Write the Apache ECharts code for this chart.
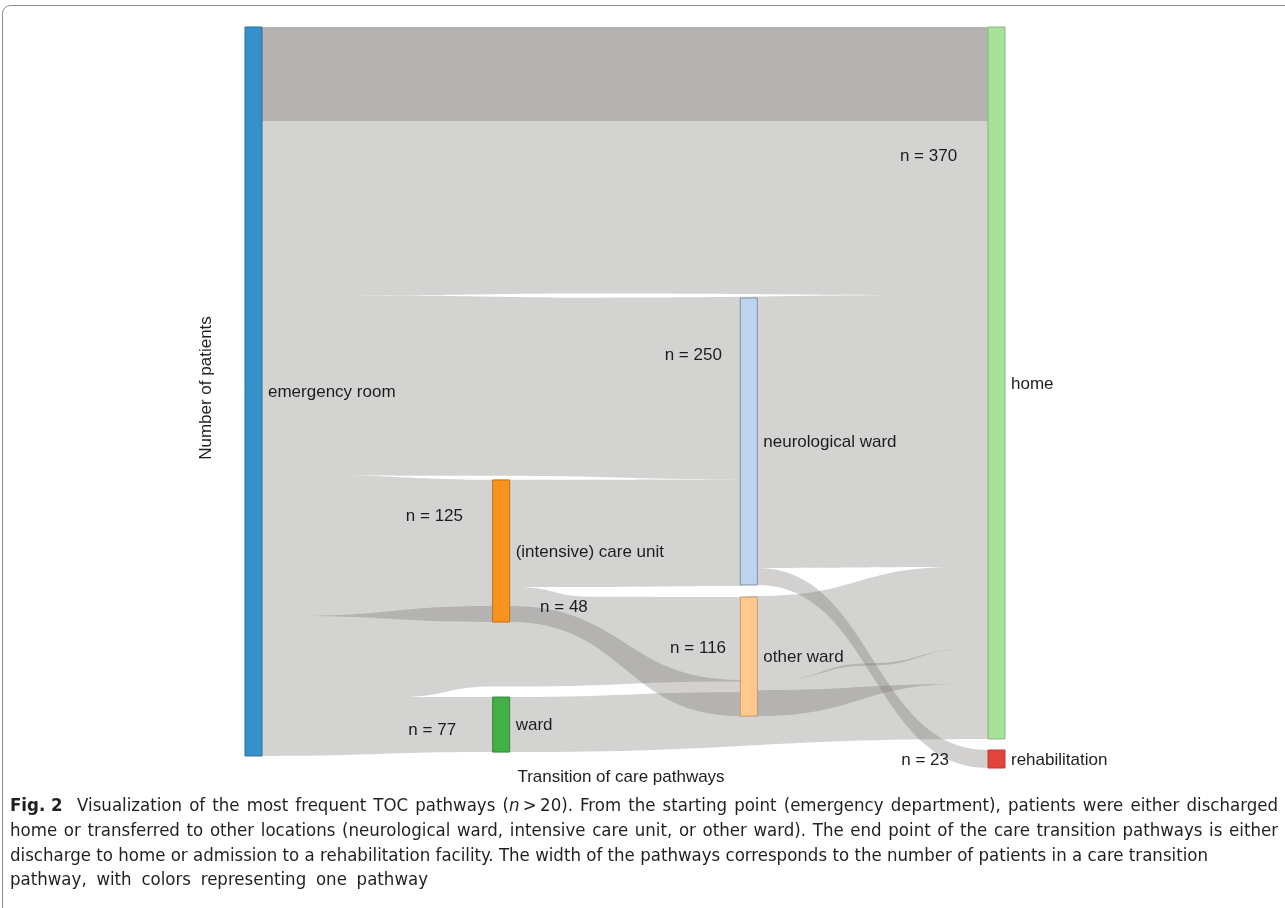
<!DOCTYPE html>
<html><head><meta charset="utf-8">
<script src="https://cdn.jsdelivr.net/npm/echarts@6/dist/echarts.min.js"></script>
<style>html,body{margin:0;padding:0;background:#fff}#chart{width:1285px;height:908px}</style>
</head><body><div id="chart"></div>
<script>
// ================= DATA =================
// Nodes (care locations): stage on the pathway axis, extent on the patient axis
const nodeNames  = ['emergency room', '(intensive) care unit', 'ward', 'neurological ward', 'other ward', 'home', 'rehabilitation'];
const nodeStage  = [0, 1, 1, 2, 2, 3, 3];
const nodeStart  = [0, 244.5, 361.7, 146.3, 307.7, 0, 390.3];
const nodeEnd    = [393.5, 321.2, 391.4, 301.2, 372.0, 384.3, 400];
const nodeColors = ['#3690c9', '#f7931e', '#44ae47', '#bdd3ee', '#fdca8c', '#a8e19b', '#e0443c'];
const nodeBorder = ['#2b6e9c', '#c66f0e', '#2e8a33', '#7d91ad', '#c49a6a', '#86b67a', '#c9362f'];

// Pathway counts (n labels)
const countLabels = ['n = 370', 'n = 250', 'n = 125', 'n = 116', 'n = 77', 'n = 48', 'n = 23'];
// anchor of each count label on [stage axis, patient axis]
const countAnchorStage = [2.841, 1.891, 0.846, 1.908, 0.818, 1.157, 2.808];
const countAnchorValue = [69.1, 176.5, 263.4, 334.7, 378.9, 312.6, 395.1];
const countAlign       = ['right', 'right', 'right', 'right', 'right', 'left', 'right'];

// Pathway ribbons: stations [stage, node side (-1 left edge / 0 / +1 right edge), upper value, lower value]
const allPathways      = [[0, 1, 0, 393.5], [1, -1, 0, 391.4], [1, 1, 0, 391.4], [3, -1, 0, 384.3]];
const gapAboveNeuro    = [[0.41, 0, 144.9, 144.9], [1.399, 0, 143.9, 146.1], [2.784, 0, 144.7, 144.7]];
const gapAboveIcu      = [[0.289, 0, 242.1, 242.1], [1, -1, 242.3, 244.4], [2, -1, 244.2, 244.2]];
const gapNeuroOther    = [[1.064, 0, 302.3, 302.3], [1.359, 0, 302.3, 307.5], [2, -1, 301.8, 307.7], [2, 1, 292.0, 307.2], [2.841, 0, 291.5, 291.5]];
const gapAboveWard     = [[0.5915, 0, 361.7, 361.7], [1, -1, 356.0, 361.7], [1, 1, 356.0, 361.7], [2, -1, 353.3, 359.1]];
const erHome           = [[0, 1, 0, 50.74], [3, -1, 0, 50.74]];
const erIcuIn          = [[0.1555, 0, 318.0, 318.0], [1, -1, 312.6, 321.2]];
const icuOther         = [[1, 1, 312.6, 321.2], [2, -1, 352.5, 372.0]];
const otherHome        = [[2, 1, 358.0, 372.0], [2.861, 0, 354.7, 354.7]];
const neuroRehab       = [[2, 1, 292.0, 301.2], [3, -1, 390.3, 400]];
const otherHomeThin    = [[2.106, 0, 352.5, 352.5], [2.489, 0, 343.5, 344.7], [2.885, 0, 335.8, 335.8]];

// ================= STYLE / LAYOUT =================
const FONT = '"Liberation Sans", Arial, Helvetica, sans-serif';
const LIGHT = '#d3d3d1', WHITE = '#ffffff', SHADE = 'rgba(117,112,108,0.32)';
const ribbons = [
  { st: allPathways, fill: LIGHT },
  { st: gapAboveNeuro, fill: WHITE },
  { st: gapAboveIcu, fill: WHITE },
  { st: gapNeuroOther, fill: WHITE },
  { st: gapAboveWard, fill: WHITE },
  { st: erHome, fill: SHADE },
  { st: erIcuIn, fill: SHADE },
  { st: icuOther, fill: SHADE },
  { st: otherHome, fill: SHADE },
  { st: neuroRehab, fill: SHADE },
  { st: otherHomeThin, fill: SHADE }
];
const NODE_HALF = 8.5;

function ribbonPath(st, api) {
  const pts = st.map(s => ({
    x: api.coord([s[0], 0])[0] + s[1] * NODE_HALF,
    yt: api.coord([0, s[2]])[1],
    yb: api.coord([0, s[3]])[1]
  }));
  let d = 'M' + pts[0].x + ',' + pts[0].yt;
  for (let i = 1; i < pts.length; i++) {
    const a = pts[i - 1], b = pts[i], mx = (a.x + b.x) / 2;
    d += ' C' + mx + ',' + a.yt + ' ' + mx + ',' + b.yt + ' ' + b.x + ',' + b.yt;
  }
  const last = pts[pts.length - 1];
  d += ' L' + last.x + ',' + last.yb;
  for (let i = pts.length - 1; i > 0; i--) {
    const a = pts[i], b = pts[i - 1], mx = (a.x + b.x) / 2;
    d += ' C' + mx + ',' + a.yb + ' ' + mx + ',' + b.yb + ' ' + b.x + ',' + b.yb;
  }
  return d + ' Z';
}

// ---------- caption layout (measured text) ----------
const captionLines = [
  '**Fig.\u00a02** Visualization of the most frequent TOC pathways (_n_\u2009>\u200920). From the starting point (emergency department), patients were either discharged',
  'home or transferred to other locations (neurological ward, intensive care unit, or other ward). The end point of the care transition pathways is either',
  'discharge to home or admission to a rehabilitation facility. The width of the pathways corresponds to the number of patients in a care transition',
  'pathway, with colors representing one pathway'
];
const captionTargets = [1268, 1268, 1198, 418];
const captionY = [806, 831, 856, 880];
const CAP_X = 10;

const mctx = document.createElement('canvas').getContext('2d');
function fontAvailable(fam) {
  mctx.font = '40px monospace';
  const a = mctx.measureText('abcdefghijklmnopqrstuvwxyz ABC').width;
  mctx.font = '40px "' + fam + '", monospace';
  const b = mctx.measureText('abcdefghijklmnopqrstuvwxyz ABC').width;
  return Math.abs(a - b) > 0.5;
}
let capFam = '"Liberation Sans", Arial, sans-serif';
if (fontAvailable('Liberation Sans Narrow')) capFam = '"Liberation Sans Narrow", sans-serif';
else if (fontAvailable('DejaVu Sans Condensed')) capFam = '"DejaVu Sans Condensed", sans-serif';

function segFont(kind, size) {
  return (kind === 'b' ? 'bold ' : kind === 'i' ? 'italic ' : '') + size + 'px ' + capFam;
}
function parseWord(w) {
  const parts = w.split(/(\*\*[^*]+\*\*|_[^_]+_)/).filter(p => p.length);
  return parts.map(p => {
    if (p.startsWith('**')) return { t: p.slice(2, -2), k: 'b' };
    if (p.startsWith('_') && p.endsWith('_') && p.length > 2) return { t: p.slice(1, -1), k: 'i' };
    return { t: p, k: 'r' };
  });
}
const capWords = captionLines.map(l => l.split(' ').map(parseWord));
function wordWidth(word, size) {
  let w = 0;
  word.forEach(s => { mctx.font = segFont(s.k, size); w += mctx.measureText(s.t).width; });
  return w;
}
mctx.font = segFont('r', 100);
const space100 = mctx.measureText(' ').width;
let capSize = 22;
capWords.forEach((words, li) => {
  const nat = words.reduce((a, w) => a + wordWidth(w, 100), 0) + (words.length - 1) * space100 + (li === 0 ? 40 : 0);
  capSize = Math.min(capSize, captionTargets[li] / nat * 100);
});
const captionGraphics = [];
capWords.forEach((words, li) => {
  const widths = words.map(w => wordWidth(w, capSize));
  const extra = li === 0 ? capSize * 0.4 : 0;
  const total = widths.reduce((a, b) => a + b, 0);
  const gap = (captionTargets[li] - total - extra) / (words.length - 1);
  let x = CAP_X;
  words.forEach((word, wi) => {
    word.forEach(s => {
      captionGraphics.push({
        type: 'text', x: x, y: captionY[li], silent: true,
        style: { text: s.t, font: segFont(s.k, capSize), fill: '#231f20', align: 'left', verticalAlign: 'middle', textAlign: 'left', textVerticalAlign: 'middle' }
      });
      mctx.font = segFont(s.k, capSize);
      x += mctx.measureText(s.t).width;
    });
    x += gap + (li === 0 && wi === 0 ? extra : 0);
  });
});

// ================= CHART =================
const chart = echarts.init(document.getElementById('chart'), null, { renderer: 'canvas' });
const option = {
  animation: false,
  backgroundColor: '#ffffff',
  grid: { left: 253.5, right: 288.5, top: 27, bottom: 140 },
  xAxis: { type: 'value', min: 0, max: 3, show: false },
  yAxis: { type: 'value', min: 0, max: 400, inverse: true, show: false },
  series: [
    {
      type: 'custom', coordinateSystem: 'cartesian2d', silent: true, z: 1,
      data: ribbons.map((r, i) => [i, 0]),
      renderItem: function (params, api) {
        const r = ribbons[params.dataIndex];
        return { type: 'path', shape: { pathData: ribbonPath(r.st, api) }, style: { fill: r.fill, stroke: null } };
      }
    },
    {
      type: 'custom', coordinateSystem: 'cartesian2d', silent: true, z: 2,
      data: nodeNames.map((n, i) => [nodeStage[i], nodeStart[i]]),
      renderItem: function (params, api) {
        const i = params.dataIndex;
        const cx = api.coord([nodeStage[i], 0])[0];
        const y0 = api.coord([0, nodeStart[i]])[1];
        const y1 = api.coord([0, nodeEnd[i]])[1];
        return {
          type: 'group', children: [
            { type: 'rect', shape: { x: cx - NODE_HALF, y: y0, width: 2 * NODE_HALF, height: y1 - y0 },
              style: { fill: nodeColors[i], stroke: nodeBorder[i], lineWidth: 1 } },
            { type: 'text', x: cx + NODE_HALF + 6, y: (y0 + y1) / 2 + 1,
              style: { text: nodeNames[i], font: '17px ' + FONT, fill: '#1d1d1d', align: 'left', verticalAlign: 'middle', textAlign: 'left', textVerticalAlign: 'middle' } }
          ]
        };
      }
    },
    {
      type: 'custom', coordinateSystem: 'cartesian2d', silent: true, z: 3,
      data: countLabels.map((l, i) => [countAnchorStage[i], countAnchorValue[i]]),
      renderItem: function (params, api) {
        const i = params.dataIndex;
        const p = api.coord([countAnchorStage[i], countAnchorValue[i]]);
        return { type: 'text', x: p[0], y: p[1] + 1,
          style: { text: countLabels[i], font: '17px ' + FONT, fill: '#1d1d1d', align: countAlign[i], verticalAlign: 'middle', textAlign: countAlign[i], textVerticalAlign: 'middle' } };
      }
    }
  ],
  graphic: {
    elements: [
      { type: 'rect', silent: true, z: -1, shape: { x: 2.5, y: 5.5, width: 1300, height: 930, r: 8 },
        style: { fill: null, stroke: '#8a8a8a', lineWidth: 1 } },
      { type: 'text', silent: true, x: 206, y: 388, rotation: Math.PI / 2,
        style: { text: 'Number of patients', font: '17px ' + FONT, fill: '#1d1d1d', align: 'center', verticalAlign: 'middle', textAlign: 'center', textVerticalAlign: 'middle' } },
      { type: 'text', silent: true, x: 621, y: 777,
        style: { text: 'Transition of care pathways', font: '17px ' + FONT, fill: '#1d1d1d', align: 'center', verticalAlign: 'middle', textAlign: 'center', textVerticalAlign: 'middle' } }
    ].concat(captionGraphics)
  }
};
chart.setOption(option);
</script>
</body></html>
